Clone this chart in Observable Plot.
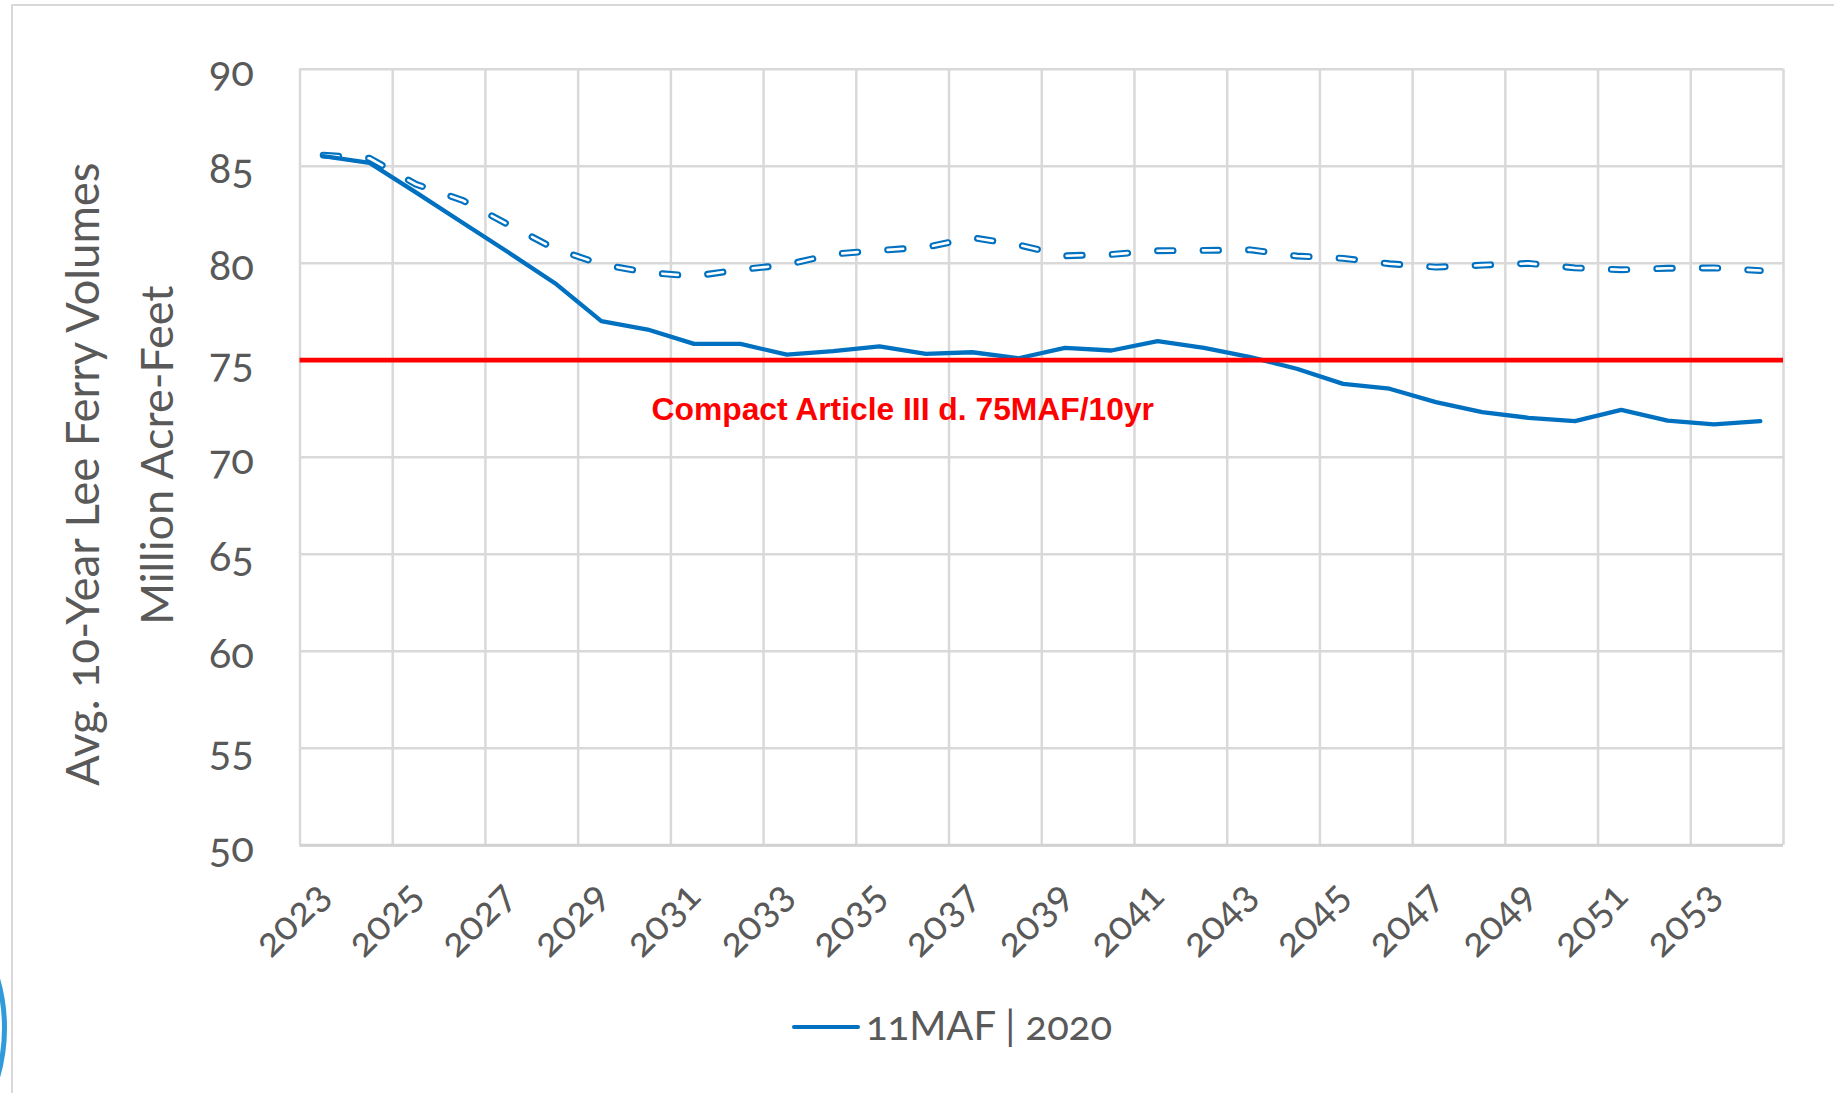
<!DOCTYPE html>
<html>
<head>
<meta charset="utf-8">
<script src="https://cdn.jsdelivr.net/npm/d3@7"></script>
<script src="https://cdn.jsdelivr.net/npm/@observablehq/plot@0.6"></script>
<style>
  html, body { margin: 0; padding: 0; background: #fff; overflow: hidden; }
  #page { position: relative; width: 1834px; height: 1093px; overflow: hidden; font-family: Lato, "Open Sans", sans-serif; }
  #frame { position: absolute; left: 10.5px; top: 3.5px; width: 3000px; height: 3000px;
           border-left: 2.5px solid #d9d9d9; border-top: 2.5px solid #d9d9d9; pointer-events: none; }
  #arc { position: absolute; left: -353px; top: 848px; width: 360px; height: 360px; box-sizing: border-box;
         border: 5px solid #2f9bd8; border-radius: 50%; pointer-events: none; }
  #chart { position: absolute; left: 0; top: 0; }
  #legend { position: absolute; left: 0; top: 990px; width: 1834px; height: 103px; }
  #legend .swatch { position: absolute; left: 792px; top: 35px; width: 68px; height: 3.8px; background: #0070c0; border-radius: 2px; }
  #legend .label { position: absolute; left: 866px; top: 15px; font-size: 40px; line-height: 40px; color: #595959;
                   font-variant-numeric: oldstyle-nums; white-space: pre; }
  svg text { font-variant-numeric: oldstyle-nums; }
</style>
</head>
<body>
<div id="page">
  <div id="frame"></div>
  <div id="arc"></div>
  <div id="chart"></div>
  <div id="legend"><div class="swatch"></div><div class="label" id="legendLabel"></div></div>
</div>
<script>
// ---- data ----
const years = [2023, 2024, 2025, 2026, 2027, 2028, 2029, 2030, 2031, 2032, 2033, 2034, 2035, 2036, 2037, 2038,
               2039, 2040, 2041, 2042, 2043, 2044, 2045, 2046, 2047, 2048, 2049, 2050, 2051, 2052, 2053, 2054];
const solidValues = [85.52, 85.17, 83.65, 82.10, 80.55, 78.97, 77.01, 76.58, 75.84, 75.84, 75.29, 75.47, 75.71, 75.33, 75.41, 75.10,
                     75.64, 75.50, 75.98, 75.64, 75.16, 74.56, 73.78, 73.53, 72.84, 72.32, 72.03, 71.86, 72.44, 71.89, 71.69, 71.86];
const dashedValues = [85.57, 85.41, 84.07, 83.25, 81.98, 80.74, 79.94, 79.52, 79.33, 79.67, 79.92, 80.47, 80.66, 80.82, 81.32, 80.94,
                      80.38, 80.45, 80.64, 80.66, 80.69, 80.37, 80.25, 79.97, 79.80, 79.90, 79.99, 79.76, 79.66, 79.74, 79.76, 79.62];
const yTicks = [50, 55, 60, 65, 70, 75, 80, 85, 90];
const xTickLabels = [2023, 2025, 2027, 2029, 2031, 2033, 2035, 2037, 2039, 2041, 2043, 2045, 2047, 2049, 2051, 2053];
const compactLimit = [75];
const compactLabel = "Compact Article III d. 75MAF/10yr";
const yTitleLines = ["Avg. 10-Year Lee Ferry Volumes", "Million Acre-Feet"];
const legendLabel = "11MAF | 2020";

// ---- tables built from the arrays ----
const solidRows = years.map((y, i) => ({year: y, value: solidValues[i]}));
const dashedRows = years.map((y, i) => ({year: y, value: dashedValues[i]}));
const gridXPositions = xTickLabels.map(y => y - 0.5).concat([years[years.length - 1] + 0.5]);

const blue = "#0070c0";
const gray = "#595959";
const dash = "15.5,30";

const chart = Plot.plot({
  width: 1834,
  height: 990,
  marginLeft: 299.5,
  marginRight: 51,
  marginTop: 68.7,
  marginBottom: 145.3,
  style: {fontFamily: "Lato, 'Open Sans', sans-serif", color: gray, background: "transparent"},
  x: {type: "linear", domain: [years[0] - 0.5, years[years.length - 1] + 0.5]},
  y: {domain: [yTicks[0], yTicks[yTicks.length - 1]]},
  marks: [
    Plot.gridX({ticks: gridXPositions, stroke: "#d9d9d9", strokeOpacity: 1, strokeWidth: 2.5}),
    Plot.gridY({ticks: yTicks, stroke: "#d9d9d9", strokeOpacity: 1, strokeWidth: 2.5}),
    Plot.ruleY([yTicks[0]], {stroke: "#d2d2d2", strokeWidth: 3}),
    // dashed series: outlined dashes
    Plot.line(dashedRows, {x: "year", y: "value", stroke: blue, strokeWidth: 6.9, strokeDasharray: dash,
                           strokeLinecap: "round", strokeLinejoin: "round"}),
    Plot.line(dashedRows, {x: "year", y: "value", stroke: "#ffffff", strokeWidth: 2.6, strokeDasharray: dash,
                           strokeLinecap: "round", strokeLinejoin: "round"}),
    // solid series
    Plot.line(solidRows, {x: "year", y: "value", stroke: blue, strokeWidth: 4.3, strokeLinejoin: "round", strokeLinecap: "round"}),
    // compact limit
    Plot.ruleY(compactLimit, {stroke: "#ff0000", strokeWidth: 4.7}),
    Plot.text(compactLimit, {y: d => d, text: () => compactLabel, fill: "#ff0000", fontSize: 31.8, fontWeight: "bold",
                             fontFamily: "'Liberation Sans', Arial, sans-serif", lineAnchor: "bottom", dx: -139, dy: 60}),
    // axes
    Plot.axisY({ticks: yTicks, tickSize: 0, tickPadding: 46, fontSize: 42, fill: gray, label: null, dy: 3}),
    Plot.axisX({ticks: xTickLabels, tickFormat: d => String(d), tickSize: 0, tickPadding: 0, tickRotate: -45,
                textAnchor: "end", lineAnchor: "bottom", fontSize: 40, fill: gray, label: null, dx: 9, dy: 53}),
    // y axis title (two lines)
    Plot.text([yTitleLines[0]], {frameAnchor: "left", text: d => d, rotate: -90, fontSize: 45.5, fill: gray,
                                 textAnchor: "middle", lineAnchor: "bottom", dx: -201, dy: 17}),
    Plot.text([yTitleLines[1]], {frameAnchor: "left", text: d => d, rotate: -90, fontSize: 45, fill: gray,
                                 textAnchor: "middle", lineAnchor: "bottom", dx: -127, dy: -2})
  ]
});
document.getElementById("chart").appendChild(chart);
document.getElementById("legendLabel").textContent = legendLabel;
</script>
</body>
</html>
